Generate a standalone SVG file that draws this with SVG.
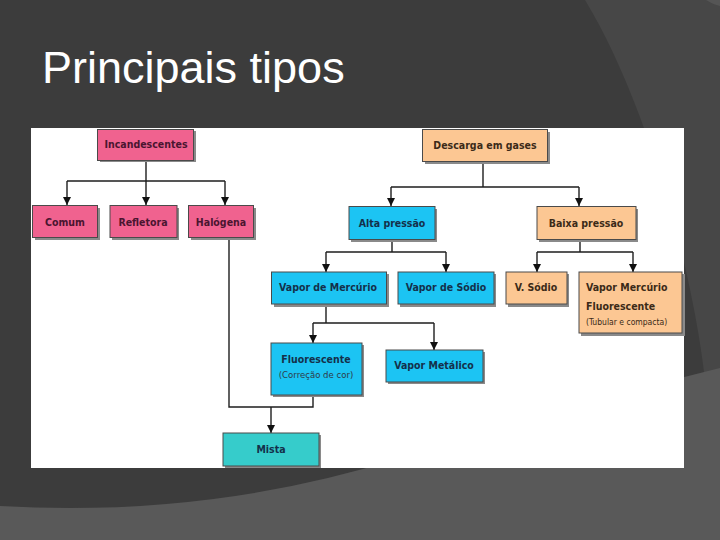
<svg xmlns="http://www.w3.org/2000/svg" width="720" height="540" viewBox="0 0 720 540">
<defs>
<style>
.bx{stroke:#4a4a4a;stroke-width:1}
.sh{fill:#8a8a8a}
.pk{fill:#f0628f}
.pe{fill:#fcc793}
.bl{fill:#1cc4f3}
.tl{fill:#36cccb}
.t{font-family:"DejaVu Sans Condensed","DejaVu Sans",sans-serif;font-weight:bold;font-size:10.5px;text-anchor:middle}
.tp{fill:#4a1530}
.tb{fill:#14304a}
.to{fill:#3b2a18}
.s{font-family:"DejaVu Sans Condensed","DejaVu Sans",sans-serif;font-size:8.5px;fill:#2e3a48}
.ln{fill:none;stroke:#1e1e1e;stroke-width:1.4}
</style>
<marker id="ah" viewBox="0 0 10 10" refX="10" refY="5" markerWidth="8" markerHeight="9" markerUnits="userSpaceOnUse" orient="auto">
<path d="M0,0 L10,5 L0,10 Z" fill="#111"/>
</marker>
</defs>
<rect x="0" y="0" width="720" height="540" fill="#3c3c3c"/>
<path d="M585,0 C640,90 690,250 705,380 L720,380 L720,0 Z" fill="#474747"/>
<path d="M706,0 Q712,4 720,6 L720,0 Z" fill="#555"/>
<path d="M0,506 Q210,518 400,458 Q570,405 720,368 L720,540 L0,540 Z" fill="#595959"/>
<text x="42" y="83" font-family="'Liberation Sans',Arial,sans-serif" font-size="45" fill="#ffffff">Principais tipos</text>
<rect x="31" y="128" width="653" height="340" fill="#ffffff"/>

<g id="connectors">
<path class="ln" d="M146,160 V181 M67,181 H225"/>
<path class="ln" d="M67,181 V205" marker-end="url(#ah)"/>
<path class="ln" d="M146,181 V205" marker-end="url(#ah)"/>
<path class="ln" d="M225,181 V205" marker-end="url(#ah)"/>
<path class="ln" d="M483,162 V187 M391,187 H579"/>
<path class="ln" d="M391,187 V206" marker-end="url(#ah)"/>
<path class="ln" d="M579,187 V206" marker-end="url(#ah)"/>
<path class="ln" d="M392,240 V252 M326,252 H446"/>
<path class="ln" d="M326,252 V272" marker-end="url(#ah)"/>
<path class="ln" d="M446,252 V272" marker-end="url(#ah)"/>
<path class="ln" d="M580,240 V252 M537,252 H633"/>
<path class="ln" d="M537,252 V272" marker-end="url(#ah)"/>
<path class="ln" d="M633,252 V272" marker-end="url(#ah)"/>
<path class="ln" d="M326,305 V323 M313,323 H434"/>
<path class="ln" d="M313,323 V343" marker-end="url(#ah)"/>
<path class="ln" d="M434,323 V350" marker-end="url(#ah)"/>
<path class="ln" d="M229,238 V407 H313 V395"/>
<path class="ln" d="M271,407 V433" marker-end="url(#ah)"/>
</g>

<g id="incandescentes">
<rect class="sh" x="100" y="131" width="96" height="31"/>
<rect class="bx pk" x="97.5" y="129.5" width="96" height="31"/>
<text class="t tp" x="146" y="148">Incandescentes</text>
</g>
<g id="comum">
<rect class="sh" x="35" y="208" width="65" height="32"/>
<rect class="bx pk" x="32.5" y="205.5" width="65" height="32"/>
<text class="t tp" x="65" y="226">Comum</text>
</g>
<g id="refletora">
<rect class="sh" x="112" y="208" width="67" height="32"/>
<rect class="bx pk" x="110" y="205.5" width="67" height="32"/>
<text class="t tp" x="143" y="226">Refletora</text>
</g>
<g id="halogena">
<rect class="sh" x="191" y="208" width="65" height="32"/>
<rect class="bx pk" x="188.5" y="205.5" width="65" height="32"/>
<text class="t tp" x="221" y="226">Halógena</text>
</g>

<g id="descarga">
<rect class="sh" x="425" y="132" width="125" height="32"/>
<rect class="bx pe" x="422.5" y="129.5" width="125" height="32"/>
<text class="t to" x="485" y="149">Descarga em gases</text>
</g>
<g id="alta">
<rect class="sh" x="351" y="209" width="86" height="33"/>
<rect class="bx bl" x="349" y="206.5" width="86" height="33"/>
<text class="t tb" x="392" y="227">Alta pressão</text>
</g>
<g id="baixa">
<rect class="sh" x="539" y="209" width="99" height="33"/>
<rect class="bx pe" x="537" y="206.5" width="99" height="33"/>
<text class="t to" x="586" y="227">Baixa pressão</text>
</g>
<g id="vapor-mercurio">
<rect class="sh" x="274" y="274" width="115" height="33"/>
<rect class="bx bl" x="271.5" y="272" width="115" height="32"/>
<text class="t tb" x="328" y="291">Vapor de Mercúrio</text>
</g>
<g id="vapor-sodio">
<rect class="sh" x="400" y="274" width="96" height="33"/>
<rect class="bx bl" x="398" y="272" width="96" height="32"/>
<text class="t tb" x="446" y="291">Vapor de Sódio</text>
</g>
<g id="v-sodio">
<rect class="sh" x="508" y="274" width="61" height="33"/>
<rect class="bx pe" x="506" y="272" width="61" height="32"/>
<text class="t to" x="536" y="291">V. Sódio</text>
</g>
<g id="vapor-mercurio-fluorescente">
<rect class="sh" x="581" y="274" width="104" height="62"/>
<rect class="bx pe" x="579" y="272" width="103" height="61"/>
<text class="t to" x="586" y="291" style="text-anchor:start">Vapor Mercúrio</text>
<text class="t to" x="586" y="310" style="text-anchor:start">Fluorescente</text>
<text class="s" x="586" y="325" style="fill:#3b2a18">(Tubular e compacta)</text>
</g>
<g id="fluorescente">
<rect class="sh" x="273" y="345" width="91" height="52"/>
<rect class="bx bl" x="271" y="343" width="91" height="52"/>
<text class="t tb" x="316" y="363">Fluorescente</text>
<text class="s" x="316" y="378" style="text-anchor:middle;font-size:9.5px">(Correção de cor)</text>
</g>
<g id="vapor-metalico">
<rect class="sh" x="388" y="352" width="97" height="32"/>
<rect class="bx bl" x="386" y="350" width="97" height="32"/>
<text class="t tb" x="434" y="369">Vapor Metálico</text>
</g>
<g id="mista">
<rect class="sh" x="225" y="435" width="96" height="33"/>
<rect class="bx tl" x="223" y="433" width="96" height="33"/>
<text class="t tb" x="271" y="453">Mista</text>
</g>
</svg>
